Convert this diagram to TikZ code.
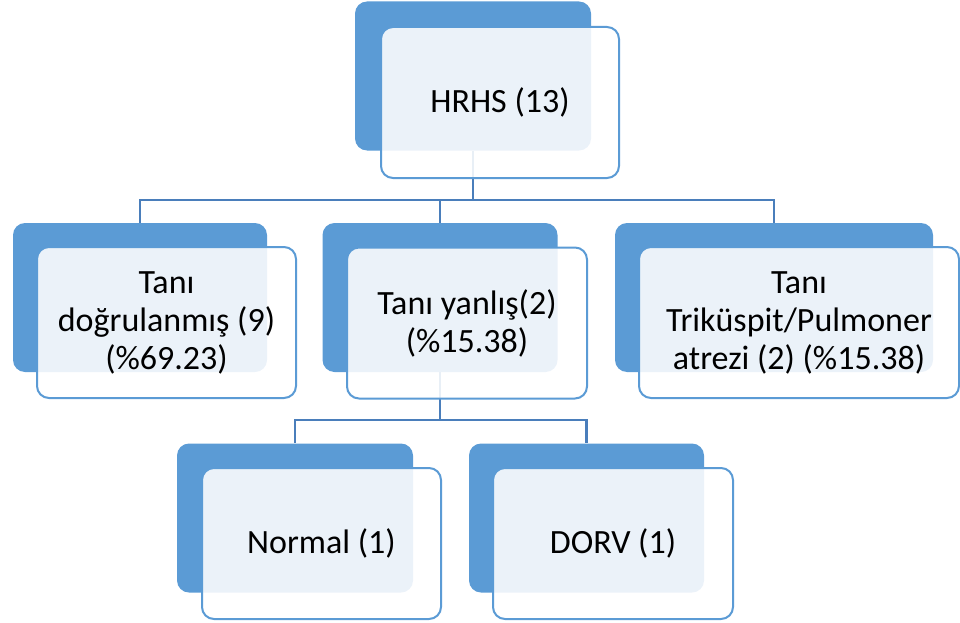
\documentclass[tikz,border=0pt]{standalone}
\usepackage{fontspec}
\setmainfont{Carlito}
\definecolor{boxblue}{HTML}{5B9BD5}
\definecolor{linkblue}{HTML}{4A7EBB}
\tikzset{
  backbox/.style = {rectangle, rounded corners=12pt, fill=boxblue,
    inner sep=0pt, minimum height=149pt},% blue card behind
  frontbox/.style = {rectangle, rounded corners=12pt, draw=boxblue,
    line width=2pt, fill=white, fill opacity=0.88, text opacity=1,
    align=center, inner sep=0pt, minimum height=151pt,
    font=\fontsize{34}{38}\selectfont},% light card with the text
  link/.style = {draw=linkblue, line width=2.3pt}
}
\begin{document}
\begin{tikzpicture}[x=1pt, y=-1pt]
  \useasboundingbox (0,0) rectangle (960,623);
  % back cards
  \node [backbox, minimum width=236pt] (hrhs)   at (473,76)    {};
  \node [backbox, minimum width=254pt] (dogru)  at (140,297.5) {};
  \node [backbox, minimum width=235pt] (yanlis) at (440,297.5) {};
  \node [backbox, minimum width=318pt] (atrezi) at (774,297.5) {};
  \node [backbox, minimum width=236pt] (normal) at (295,518)   {};
  \node [backbox, minimum width=235pt] (dorv)   at (586.5,518) {};
  % connectors
  \coordinate (fork1) at (473,200);
  \coordinate (fork2) at (440,420);
  \draw [link] (hrhs.south) -- (fork1) -| (dogru.north);
  \draw [link] (fork1) -| (yanlis.north);
  \draw [link] (fork1) -| (atrezi.north);
  \draw [link] (yanlis.south) -- (fork2) -| (normal.north);
  \draw [link] (fork2) -| (dorv.north);
  % front cards
  \node [frontbox, minimum width=238pt] (hrhs-t)   at (500,102.5)   {HRHS (13)};
  \node [frontbox, minimum width=259pt] (dogru-t)  at (166.5,322.5) {Tanı\\doğrulanmış (9)\\(\%69.23)};
  \node [frontbox, minimum width=240pt] (yanlis-t) at (467,323)     {Tanı yanlış(2)\\(\%15.38)};
  \node [frontbox, minimum width=320pt] (atrezi-t) at (799,322.5)   {Tanı\\Triküspit/Pulmoner\\atrezi (2) (\%15.38)};
  \node [frontbox, minimum width=239pt] (normal-t) at (321.5,543.5) {Normal (1)};
  \node [frontbox, minimum width=240pt] (dorv-t)   at (613,543.5)   {DORV (1)};
\end{tikzpicture}
\end{document}
